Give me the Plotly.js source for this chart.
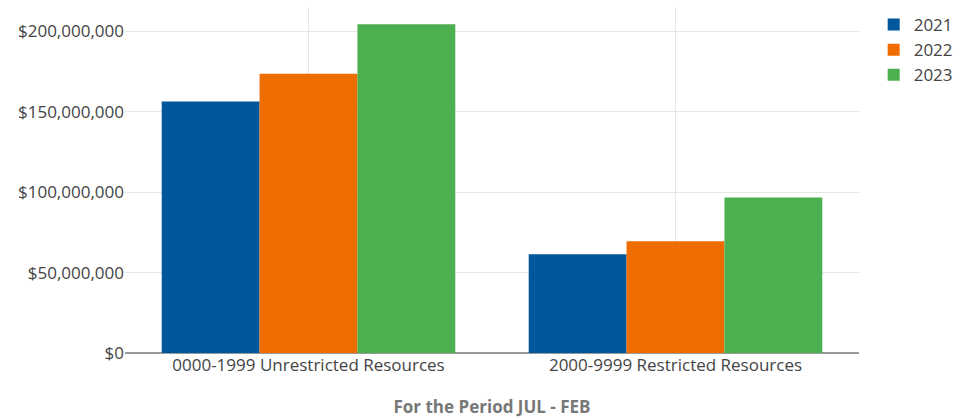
<!DOCTYPE html>
<html>
<head>
<meta charset="utf-8">
<script src="https://cdn.plot.ly/plotly-3.0.1.min.js"></script>
<style>html,body{margin:0;padding:0;background:#fff;}#chart{width:973px;height:420px;}</style>
</head>
<body>
<div id="chart"></div>
<script>
const categories = ["0000-1999 Unrestricted Resources", "2000-9999 Restricted Resources"];
const years = ["2021", "2022", "2023"];
const values2021 = [156500000, 61500000];
const values2022 = [173700000, 69500000];
const values2023 = [204500000, 96800000];
const colors = ["#01579B", "#EF6C00", "#4CAF50"];
const xTitle = "For the Period JUL - FEB";

const seriesValues = [values2021, values2022, values2023];
const traces = years.map((y, i) => ({
  type: "bar",
  name: y,
  x: categories,
  y: seriesValues[i],
  marker: {color: colors[i]}
}));

const layout = {
  width: 973,
  height: 420,
  margin: {l: 125, r: 114, t: 7, b: 67},
  font: {family: "Open Sans, sans-serif", size: 17, color: "#444"},
  paper_bgcolor: "#fff",
  plot_bgcolor: "#fff",
  barmode: "group",
  bargap: 0.2,
  bargroupgap: 0,
  xaxis: {
    title: {text: "<b>" + xTitle + "</b>", font: {size: 17, color: "#777"}, standoff: 26},
    showgrid: true,
    gridcolor: "#e6e6e6",
    tickfont: {size: 17}
  },
  yaxis: {
    tickformat: "$,.0f",
    gridcolor: "#e6e6e6",
    zeroline: true,
    zerolinecolor: "#999",
    zerolinewidth: 2,
    dtick: 50000000,
    tickfont: {size: 17}
  },
  legend: {x: 1.02, y: 1, xanchor: "left", yanchor: "top", font: {size: 17}},
  showlegend: true
};

Plotly.newPlot("chart", traces, layout, {displayModeBar: false, staticPlot: true});
</script>
</body>
</html>
